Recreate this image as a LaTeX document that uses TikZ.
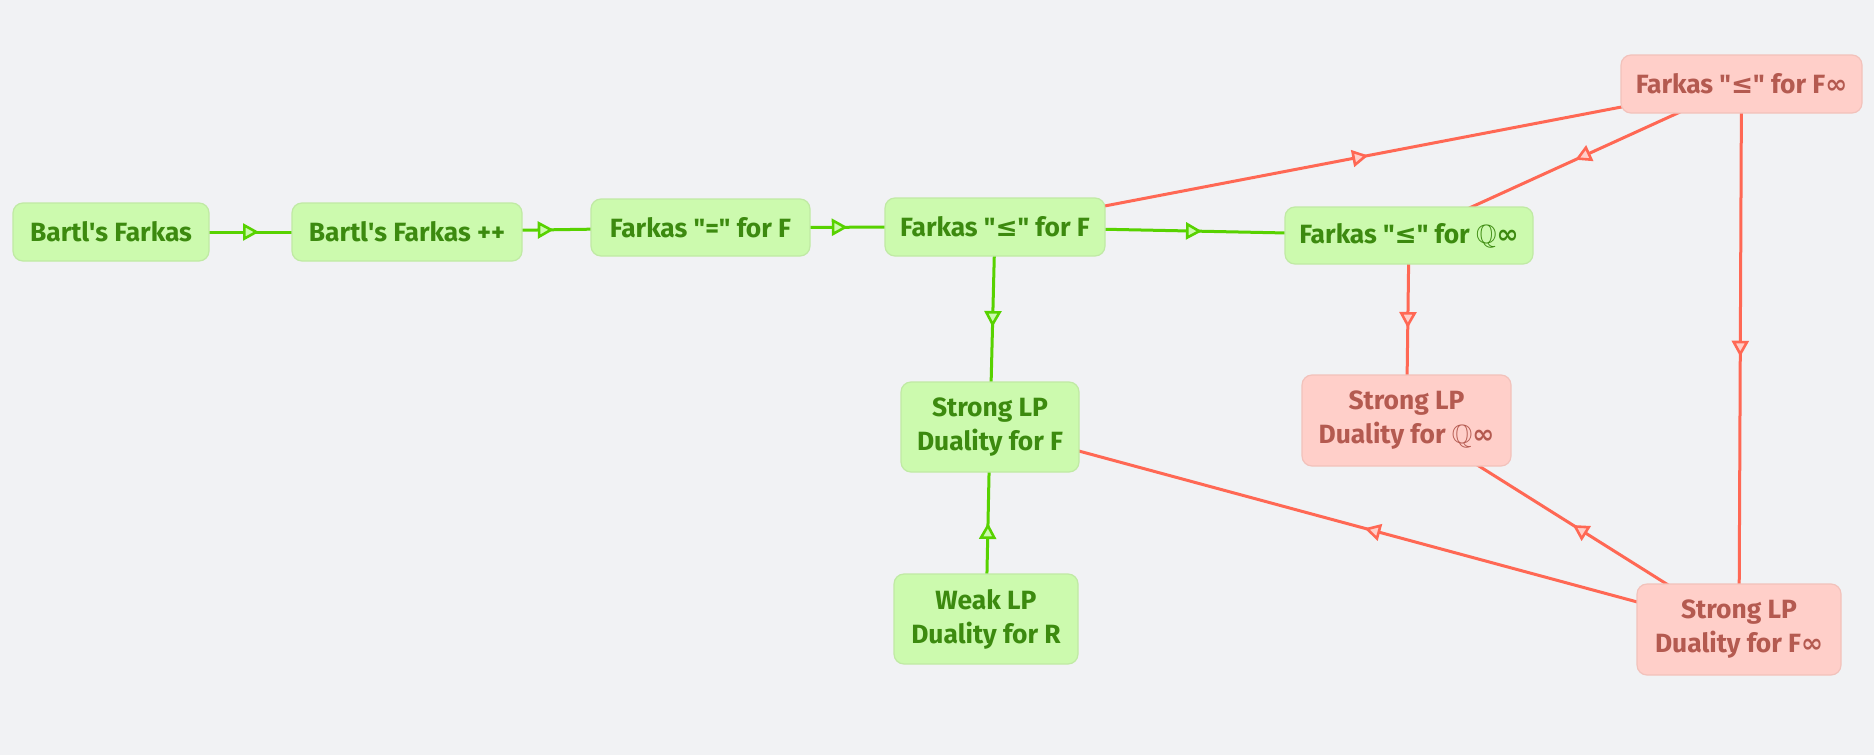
\documentclass[tikz,border=0pt]{standalone}
\usepackage{amssymb}
\usepackage{fontspec}
\setmainfont{Fira Sans}
\newfontfamily\symfont{DejaVu Sans}
\usetikzlibrary{arrows.meta,decorations.markings}
\definecolor{bgGrey}{HTML}{F1F2F4}
\definecolor{greenFill}{HTML}{CCFAAE}
\definecolor{greenBorder}{HTML}{C0EAA4}
\definecolor{greenText}{HTML}{3C8A0F}
\definecolor{greenEdge}{HTML}{58D200}
\definecolor{redFill}{HTML}{FFCFC9}
\definecolor{redBorder}{HTML}{F2C2BB}
\definecolor{redText}{HTML}{B45A50}
\definecolor{redEdge}{HTML}{FF6854}
\newcommand{\lesym}{{\symfont\bfseries ≤}}
\newcommand{\infsym}{{\symfont\bfseries ∞}}
\newcommand{\qt}{\textquotedbl}
\pgfdeclarelayer{bglayer}
\pgfdeclarelayer{edgelayer}
\pgfsetlayers{bglayer,edgelayer,main}
\tikzset{
        lemma/.style={align=center, inner sep=0pt, rounded corners=5pt, line width=0.6pt,
            font=\bfseries\fontsize{13.2}{17}\selectfont},
        % Proved statements
        node_proved/.style={lemma, fill=greenFill, draw=greenBorder, text=greenText},
        % Statements still open
        node_open/.style={lemma, fill=redFill, draw=redBorder, text=redText},
        % Dependency edges, tip in the middle
        dep/.style={line width=1.5pt, postaction={decorate}, decoration={markings,
            mark=at position 0.5 with {\arrow[line width=1.3pt]{Triangle[length=8pt, width=8.5pt, fill=#1]}}}},
        edge_proved/.style={greenEdge, dep=greenFill},
        edge_open/.style={redEdge, dep=redFill}
}
\begin{document}
\begin{tikzpicture}[x=0.5pt, y=-0.5pt]
    \begin{pgfonlayer}{bglayer}
        \fill[bgGrey] (0,0) rectangle (1874,755);
    \end{pgfonlayer}
    \useasboundingbox (0,0) rectangle (1874,755);

    \node[node_proved, minimum width=98pt, minimum height=29pt] (bartl) at (111,232) {Bartl\textquotesingle s Farkas};
    \node[node_proved, minimum width=115pt, minimum height=29pt] (bartlpp) at (407,232) {Bartl\textquotesingle s Farkas ++};
    \node[node_proved, minimum width=109.5pt, minimum height=28.5pt] (eqF) at (700.5,227.5) {Farkas \qt=\qt{} for F};
    \node[node_proved, minimum width=110pt, minimum height=29pt] (leF) at (995,227) {Farkas \qt\lesym\qt{} for F};
    \node[node_proved, minimum width=124pt, minimum height=28.5pt] (leQinf) at (1409,235.5) {Farkas \qt\lesym\qt{} for $\mathbb{Q}$\infsym};
    \node[node_open, minimum width=120.5pt, minimum height=29pt] (leFinf) at (1741.5,84) {Farkas \qt\lesym\qt{} for F\infsym};
    \node[node_proved, minimum width=89pt, minimum height=45pt] (slpF) at (990,427) {Strong LP\\Duality for F};
    \node[node_proved, minimum width=92pt, minimum height=45pt] (weakR) at (986,619) {Weak LP\\Duality for R};
    \node[node_open, minimum width=104.5pt, minimum height=45.5pt] (slpQinf) at (1406.5,420.5) {Strong LP\\Duality for $\mathbb{Q}$\infsym};
    \node[node_open, minimum width=102pt, minimum height=45.5pt] (slpFinf) at (1739,629.5) {Strong LP\\Duality for F\infsym};

    \begin{pgfonlayer}{edgelayer}
        \draw[edge_proved] (bartl.center) -- (bartlpp.center);
        \draw[edge_proved] (bartlpp.center) -- (eqF.center);
        \draw[edge_proved] (eqF.center) -- (leF.center);
        \draw[edge_proved] (leF.center) -- (leQinf.center);
        \draw[edge_proved] (leF.center) -- (slpF.center);
        \draw[edge_proved] (weakR.center) -- (slpF.center);
        \draw[edge_open] (leF.center) -- (leFinf.center);
        \draw[edge_open] (leFinf.center) -- (leQinf.center);
        \draw[edge_open] (leFinf.center) -- (slpFinf.center);
        \draw[edge_open] (leQinf.center) -- (slpQinf.center);
        \draw[edge_open] (slpFinf.center) -- (slpQinf.center);
        \draw[edge_open] (slpFinf.center) -- (slpF.center);
    \end{pgfonlayer}
\end{tikzpicture}
\end{document}
